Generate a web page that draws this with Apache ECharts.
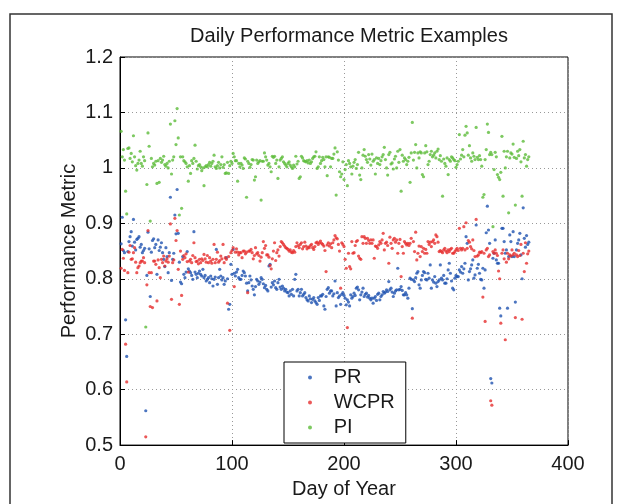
<!DOCTYPE html>
<html>
<head>
<meta charset="utf-8">
<script src="https://cdn.jsdelivr.net/npm/echarts@6/dist/echarts.min.js"></script>
<style>
html,body{margin:0;padding:0;background:#fff;}
#chart{width:622px;height:504px;}
</style>
</head>
<body>
<div id="chart"></div>
<script>
// Day of year 1..365
var xTicks = [0, 100, 200, 300, 400];
var yTicks = [0.5, 0.6, 0.7, 0.8, 0.9, 1.0, 1.1, 1.2];
var seriesNames = ['PR', 'WCPR', 'PI'];

var PR = [
0.863,0.911,0.851,0.847,0.726,0.660,0.849,0.867,0.876,0.885,
0.859,0.907,0.866,0.852,0.871,0.873,0.876,0.857,0.862,0.847,
0.851,0.855,0.562,0.806,0.884,0.854,0.768,0.848,0.869,0.872,
0.856,0.862,0.808,0.870,0.851,0.857,0.865,0.847,0.835,0.822,
0.856,0.840,0.811,0.847,0.947,0.797,0.835,0.846,0.915,0.881,
0.961,0.882,0.830,0.794,0.791,0.840,0.808,0.802,0.812,0.849,
0.818,0.814,0.811,0.806,0.799,0.885,0.812,0.808,0.802,0.810,
0.814,0.808,0.805,0.817,0.802,0.806,0.796,0.799,0.802,0.793,
0.805,0.800,0.787,0.799,0.803,0.853,0.790,0.802,0.817,0.805,
0.798,0.802,0.790,0.796,0.838,0.800,0.745,0.754,0.826,0.808,
0.853,0.810,0.805,0.812,0.817,0.802,0.799,0.799,0.806,0.814,
0.811,0.805,0.792,0.778,0.793,0.805,0.798,0.787,0.781,0.771,
0.786,0.799,0.796,0.790,0.794,0.802,0.799,0.791,0.784,0.788,
0.781,0.778,0.823,0.826,0.785,0.793,0.789,0.796,0.784,0.781,
0.793,0.799,0.785,0.781,0.787,0.783,0.778,0.781,0.776,0.775,
0.769,0.778,0.772,0.781,0.769,0.799,0.808,0.778,0.781,0.769,
0.775,0.781,0.769,0.772,0.775,0.766,0.762,0.760,0.769,0.764,
0.757,0.763,0.766,0.760,0.757,0.754,0.766,0.761,0.769,0.769,
0.772,0.751,0.745,0.768,0.781,0.784,0.774,0.778,0.778,0.769,
0.773,0.796,0.751,0.775,0.766,0.769,0.754,0.772,0.775,0.770,
0.765,0.753,0.762,0.758,0.751,0.771,0.765,0.768,0.774,0.770,
0.783,0.785,0.780,0.762,0.771,0.776,0.783,0.768,0.772,0.774,
0.767,0.770,0.765,0.762,0.765,0.756,0.765,0.768,0.761,0.772,
0.774,0.762,0.768,0.771,0.777,0.774,0.776,0.780,0.777,0.795,
0.780,0.783,0.776,0.768,0.774,0.778,0.780,0.819,0.780,0.781,
0.786,0.779,0.771,0.771,0.775,0.771,0.765,0.783,0.801,0.799,
0.746,0.798,0.795,0.802,0.810,0.813,0.789,0.783,0.798,0.806,
0.813,0.811,0.799,0.798,0.810,0.801,0.825,0.783,0.798,0.794,
0.804,0.792,0.786,0.795,0.798,0.825,0.801,0.798,0.806,0.792,
0.792,0.800,0.816,0.828,0.810,0.796,0.783,0.780,0.801,0.806,
0.804,0.804,0.816,0.812,0.822,0.810,0.818,0.828,0.876,0.864,
0.798,0.813,0.818,0.825,0.834,0.801,0.807,0.897,0.819,0.826,
0.810,0.799,0.798,0.819,0.783,0.816,0.883,0.931,0.888,0.864,
0.620,0.612,0.837,0.846,0.870,0.834,0.828,0.828,0.747,0.733,
0.891,0.891,0.867,0.846,0.852,0.747,0.840,0.879,0.867,0.840,
0.885,0.840,0.758,0.852,0.864,0.870,0.882,0.843,0.800,0.928,
0.873,0.857,0.878,0.862,0.866
];

var WCPR = [
0.819,0.853,0.837,0.815,0.682,0.614,0.811,0.848,0.860,0.835,
0.836,0.847,0.856,0.830,0.811,0.820,0.823,0.829,0.832,0.832,
0.838,0.829,0.515,0.789,0.887,0.811,0.750,0.811,0.748,0.832,
0.832,0.826,0.760,0.834,0.820,0.802,0.835,0.829,0.841,0.823,
0.832,0.836,0.830,0.841,0.899,0.763,0.829,0.834,0.909,0.869,
0.887,0.817,0.754,0.850,0.770,0.835,0.842,0.838,0.845,0.831,
0.812,0.832,0.835,0.829,0.842,0.865,0.838,0.831,0.832,0.827,
0.835,0.829,0.836,0.833,0.844,0.836,0.830,0.842,0.829,0.838,
0.832,0.828,0.835,0.862,0.829,0.835,0.848,0.830,0.833,0.841,
0.836,0.862,0.829,0.838,0.835,0.756,0.840,0.707,0.847,0.851,
0.856,0.786,0.848,0.854,0.848,0.843,0.847,0.847,0.838,0.850,
0.850,0.845,0.848,0.775,0.850,0.850,0.853,0.847,0.836,0.842,
0.856,0.845,0.847,0.842,0.832,0.839,0.847,0.867,0.855,0.860,
0.843,0.843,0.839,0.824,0.818,0.836,0.850,0.865,0.833,0.847,
0.852,0.841,0.858,0.867,0.865,0.862,0.859,0.856,0.855,0.853,
0.850,0.852,0.848,0.847,0.851,0.848,0.858,0.865,0.860,0.856,
0.862,0.865,0.854,0.858,0.866,0.859,0.854,0.857,0.856,0.860,
0.862,0.856,0.853,0.858,0.865,0.866,0.862,0.865,0.868,0.864,
0.862,0.859,0.851,0.813,0.861,0.865,0.859,0.863,0.856,0.865,
0.870,0.878,0.874,0.872,0.862,0.850,0.783,0.865,0.862,0.858,
0.835,0.819,0.712,0.846,0.822,0.818,0.867,0.846,0.847,0.860,
0.867,0.869,0.841,0.837,0.835,0.876,0.864,0.876,0.873,0.864,
0.873,0.869,0.864,0.870,0.864,0.870,0.837,0.859,0.858,0.855,
0.861,0.867,0.864,0.870,0.882,0.852,0.864,0.866,0.860,0.828,
0.875,0.864,0.855,0.870,0.873,0.866,0.870,0.846,0.864,0.871,
0.804,0.858,0.846,0.867,0.864,0.861,0.864,0.860,0.864,0.873,
0.729,0.867,0.849,0.884,0.834,0.846,0.859,0.840,0.858,0.849,
0.855,0.846,0.853,0.846,0.867,0.862,0.866,0.858,0.867,0.870,
0.864,0.879,0.876,0.866,0.849,0.851,0.849,0.847,0.852,0.855,
0.850,0.847,0.852,0.849,0.853,0.855,0.846,0.846,0.849,0.852,
0.855,0.851,0.891,0.855,0.852,0.855,0.894,0.852,0.901,0.855,
0.869,0.866,0.858,0.854,0.870,0.851,0.840,0.907,0.841,0.843,
0.848,0.847,0.849,0.767,0.846,0.723,0.852,0.855,0.840,0.843,
0.580,0.572,0.849,0.846,0.852,0.846,0.842,0.814,0.800,0.720,
0.846,0.852,0.836,0.690,0.830,0.846,0.836,0.843,0.841,0.852,
0.843,0.846,0.730,0.843,0.840,0.851,0.842,0.862,0.727,0.846,
0.813,0.865,0.828,0.845,0.850
];

var PI = [
1.066,1.020,1.033,1.014,0.958,0.917,1.035,1.036,1.017,1.026,
1.011,1.058,1.020,1.004,0.996,1.008,1.014,1.030,1.008,1.003,
1.020,1.013,0.713,0.970,1.063,1.039,0.904,1.017,1.002,1.008,
1.005,1.012,0.972,1.013,0.974,1.017,1.010,1.014,1.021,1.006,
1.003,1.008,1.000,1.012,1.079,0.989,1.014,1.020,1.085,1.042,
1.107,1.054,0.915,1.020,0.927,1.020,1.013,1.011,1.008,1.002,
0.976,1.004,0.990,1.013,1.008,1.017,1.041,1.012,0.998,1.004,
1.006,1.002,0.995,1.000,0.968,1.002,1.004,1.002,1.006,1.010,
1.003,1.008,1.012,1.023,1.002,0.999,1.004,1.010,1.000,1.006,
1.020,1.001,1.006,0.990,0.991,1.010,0.990,1.004,1.012,1.008,
1.026,1.020,1.013,1.013,0.976,1.008,1.002,1.008,1.005,0.999,
1.018,1.016,0.947,1.012,1.008,1.001,1.006,1.015,1.014,0.978,
0.984,1.014,1.008,1.011,1.013,0.942,1.012,1.012,1.027,1.020,
1.014,1.005,1.008,1.002,0.993,1.021,1.019,1.021,1.008,1.014,
0.981,1.002,1.014,1.017,1.020,1.011,1.008,1.005,1.002,1.008,
1.011,1.005,1.002,0.999,1.005,1.002,1.021,1.007,1.012,0.981,
0.984,1.021,1.018,1.013,1.012,1.011,1.013,1.009,1.014,1.008,
1.011,1.017,1.020,1.021,1.029,0.999,1.002,1.020,1.008,1.013,
1.019,1.015,1.002,1.020,0.986,1.020,1.019,1.002,1.017,1.017,
1.025,1.036,0.951,1.029,1.014,0.993,0.984,0.989,1.011,0.979,
0.997,1.006,0.968,1.013,1.008,1.002,0.989,1.003,1.010,1.015,
0.999,1.006,1.028,0.987,0.979,1.000,1.023,1.033,1.021,1.015,
1.010,1.024,1.016,1.005,1.025,1.012,1.015,0.989,1.018,1.008,
1.017,1.006,1.013,1.020,1.024,1.037,1.015,1.000,0.987,1.024,
1.028,1.007,1.009,0.998,1.016,1.021,1.000,1.030,1.010,1.033,
0.958,1.023,1.012,1.018,1.015,1.006,1.012,1.019,0.974,1.027,
1.082,1.014,1.028,1.042,1.000,1.027,1.018,1.029,1.027,0.988,
0.984,1.027,1.040,1.029,1.006,1.012,1.024,1.030,1.020,1.023,
1.027,1.018,1.030,1.034,1.015,1.022,1.012,0.949,1.016,1.008,
1.003,1.018,0.988,1.015,1.012,1.020,1.018,1.015,1.013,1.001,
1.006,1.012,1.060,1.016,1.023,1.033,1.020,1.059,1.075,1.063,
1.023,1.040,1.018,1.012,1.027,1.021,1.015,1.073,1.019,1.015,
1.022,1.015,1.003,0.947,0.952,1.015,1.033,1.079,1.064,1.024,
1.028,1.024,0.894,0.997,1.028,1.020,0.988,0.983,0.979,0.992,
1.057,0.949,1.030,1.000,1.020,1.030,0.919,1.018,1.027,1.025,
1.043,1.019,0.933,1.017,1.030,1.022,1.033,1.011,0.949,1.048,
1.018,1.024,1.003,1.015,1.020
];

var colors = ['#1f52b0', '#e62e2e', '#5cbc3a'];
var FONT = '"Liberation Sans", Arial, Helvetica, sans-serif';

function pairs(arr) {
  return arr.map(function (v, i) { return [i + 1, v]; });
}

var chart = echarts.init(document.getElementById('chart'), null, {renderer: 'canvas'});
var option = {
  animation: false,
  backgroundColor: '#fff',
  title: {
    text: 'Daily Performance Metric Examples',
    left: 344, top: 21, textAlign: 'center',
    textStyle: {fontFamily: FONT, fontSize: 20, fontWeight: 'normal', color: '#1a1a1a'}
  },
  graphic: [{
    type: 'rect', silent: true,
    shape: {x: 10, y: 14, width: 602, height: 520},
    style: {fill: 'none', stroke: '#333', lineWidth: 1.5}
  }],
  grid: {left: 120, right: 54, top: 57, bottom: 54, show: true, borderColor: '#000', borderWidth: 1, backgroundColor: 'transparent'},
  legend: {
    orient: 'vertical', left: 284, top: 362,
    data: seriesNames,
    icon: 'circle', itemWidth: 4, itemHeight: 4, itemGap: 2,
    formatter: function (name) { return '   ' + name; },
    padding: [4, 11, 4, 24],
    backgroundColor: '#fff', borderColor: '#000', borderWidth: 1,
    textStyle: {fontFamily: FONT, fontSize: 20, color: '#1a1a1a', lineHeight: 23}
  },
  xAxis: {
    type: 'value', min: xTicks[0], max: xTicks[xTicks.length - 1], interval: 100,
    name: 'Day of Year', nameLocation: 'middle', nameGap: 31,
    nameTextStyle: {fontFamily: FONT, fontSize: 20, color: '#1a1a1a'},
    axisLine: {show: true, onZero: false, lineStyle: {color: '#000', width: 1}},
    axisTick: {show: true, inside: true, length: 5, lineStyle: {color: '#000'}},
    axisLabel: {fontFamily: FONT, fontSize: 20, color: '#1a1a1a', margin: 9},
    splitLine: {show: true, lineStyle: {color: '#999', type: [1, 3], width: 1}}
  },
  yAxis: {
    type: 'value', min: yTicks[0], max: yTicks[yTicks.length - 1], interval: 0.1,
    name: 'Performance Metric', nameLocation: 'middle', nameGap: 41, nameMoveOverlap: false,
    nameTextStyle: {fontFamily: FONT, fontSize: 20, color: '#1a1a1a'},
    axisLine: {show: true, onZero: false, lineStyle: {color: '#000', width: 1}},
    axisTick: {show: true, inside: true, length: 5, lineStyle: {color: '#000'}},
    axisLabel: {fontFamily: FONT, fontSize: 20, color: '#1a1a1a', margin: 7,
      formatter: function (v) { return String(+v.toFixed(1)); }},
    splitLine: {show: true, lineStyle: {color: '#999', type: [1, 3], width: 1}}
  },
  series: [
    {name: seriesNames[0], type: 'scatter', data: pairs(PR), symbol: 'circle', symbolSize: 3.2,
     itemStyle: {color: colors[0]}},
    {name: seriesNames[1], type: 'scatter', data: pairs(WCPR), symbol: 'circle', symbolSize: 3.2,
     itemStyle: {color: colors[1]}},
    {name: seriesNames[2], type: 'scatter', data: pairs(PI), symbol: 'circle', symbolSize: 3.2,
     itemStyle: {color: colors[2]}}
  ]
};
chart.setOption(option);
</script>
</body>
</html>
